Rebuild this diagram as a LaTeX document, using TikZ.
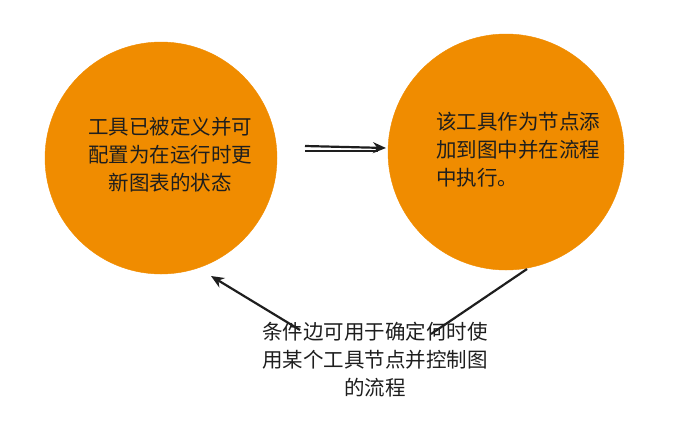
\documentclass[tikz,border=0pt]{standalone}
\usepackage{fontspec}
\setmainfont{Noto Sans CJK SC}
\usetikzlibrary{arrows.meta}
\definecolor{orng}{HTML}{F08C00}
\definecolor{ink}{HTML}{1E1E1E}
\begin{document}
\begin{tikzpicture}[x=1pt,y=-1pt,
  blob/.style={circle,fill=orng,draw=orng,inner sep=0pt},
  txt/.style={font=\fontsize{20.5}{28}\selectfont,text=ink,align=center},
  conn/.style={draw=ink,line width=2.2pt,-{Stealth[length=13pt,width=11pt]}}]
\useasboundingbox (0,0) rectangle (676,421);
\node[blob,minimum size=232pt] (L) at (161,158) {};
\node[blob,minimum size=236pt] (R) at (506,152) {};
\node[txt] (lt) at (170,155) {工具已被定义并可\\配置为在运行时更\\新图表的状态};
\node[txt,align=left] (rt) at (518,150) {该工具作为节点添\\加到图中并在流程\\中执行。};
\node[txt] (bt) at (375,360) {条件边可用于确定何时使\\用某个工具节点并控制图\\的流程};
\coordinate (a1) at (305,146);
\coordinate (a2) at (386,148);
\draw[conn] (a1) -- (a2);
\draw[draw=ink,line width=1.6pt] (305,151) -- (378,151);
\coordinate (b1) at (527,269);
\coordinate (b2) at (431,334);
\draw[draw=ink,line width=2.2pt] (b1) -- (b2);
\coordinate (c1) at (300,330);
\coordinate (c2) at (211,276);
\draw[conn] (c1) -- (c2);
\end{tikzpicture}
\end{document}
